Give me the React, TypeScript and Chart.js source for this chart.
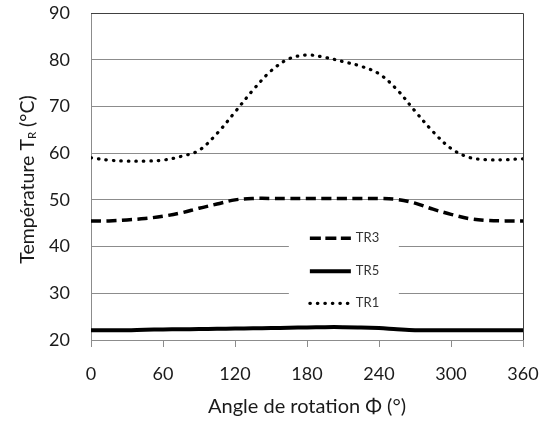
import React, { useEffect, useRef } from 'react';
import { Chart, registerables } from 'chart.js';

Chart.register(...registerables);

// ---- data ----
const angles = [0, 15, 30, 45, 60, 75, 90, 105, 120, 135, 150, 165, 180, 195, 210, 225, 240, 255, 270, 285, 300, 315, 330, 345, 360];
const tr1 = [59.0, 58.5, 58.3, 58.3, 58.5, 59.3, 60.6, 64.2, 68.8, 73.5, 77.6, 80.2, 81.0, 80.5, 79.6, 78.6, 77.0, 73.6, 69.0, 64.6, 61.0, 59.1, 58.6, 58.6, 58.8];
const tr3 = [45.5, 45.5, 45.7, 46.0, 46.5, 47.2, 48.2, 49.1, 50.0, 50.3, 50.3, 50.3, 50.3, 50.3, 50.3, 50.3, 50.3, 50.1, 49.3, 48.0, 46.9, 46.0, 45.6, 45.5, 45.5];
const tr5 = [22.1, 22.1, 22.1, 22.2, 22.25, 22.3, 22.35, 22.4, 22.45, 22.5, 22.55, 22.6, 22.7, 22.75, 22.75, 22.7, 22.55, 22.3, 22.1, 22.1, 22.1, 22.1, 22.1, 22.1, 22.1];
const xTicks = [0, 60, 120, 180, 240, 300, 360];
const yTicks = [20, 30, 40, 50, 60, 70, 80, 90];
const seriesNames = ['TR3', 'TR5', 'TR1'];
const xTitle = 'Angle de rotation Φ (°)';
const yTitleMain = 'Température T';
const yTitleSub = 'R';
const yTitleUnit = ' (°C)';

const FONT = 'Lato, "Open Sans", sans-serif';
const GRID = '#8c8c8c';
const TEXT = '#1a1a1a';

const toPoints = (vals: number[]) => angles.map((a, i) => ({ x: a, y: vals[i] }));

const framePlugin = {
  id: 'frame',
  beforeDatasetsDraw(chart: any) {
    const { ctx, chartArea, scales } = chart;
    const { left, right, top, bottom } = chartArea;
    ctx.save();
    ctx.strokeStyle = '#404040';
    ctx.lineWidth = 1;
    ctx.beginPath();
    ctx.moveTo(left, Math.round(top) + 0.5);
    ctx.lineTo(Math.round(right) + 0.5, Math.round(top) + 0.5);
    ctx.lineTo(Math.round(right) + 0.5, bottom);
    ctx.stroke();
    // visible x tick marks (short, below the axis)
    ctx.strokeStyle = GRID;
    ctx.beginPath();
    scales.x.ticks.forEach((t: any) => {
      const px = Math.round(scales.x.getPixelForValue(t.value)) + 0.5;
      ctx.moveTo(px, bottom);
      ctx.lineTo(px, bottom + 7);
    });
    ctx.stroke();
    ctx.restore();
  },
};

const legendPlugin = {
  id: 'innerLegend',
  afterDatasetsDraw(chart: any) {
    const { ctx, chartArea } = chart;
    const { left, top, width, height } = chartArea;
    const bx = left + width * 0.458;
    const by = top + height * 0.64;
    const bw = 110;
    const bh = 98;
    ctx.save();
    ctx.fillStyle = '#ffffff';
    ctx.fillRect(bx, by, bw, bh);
    const rows = [16, 49, 81];
    chart.data.datasets.forEach((ds: any, i: number) => {
      const y = by + rows[i];
      ctx.beginPath();
      ctx.strokeStyle = ds.borderColor;
      ctx.lineWidth = ds.borderWidth;
      ctx.lineCap = ds.borderCapStyle || 'butt';
      ctx.setLineDash(ds.legendDash || []);
      ctx.moveTo(bx + 21, y);
      ctx.lineTo(bx + 62, y);
      ctx.stroke();
      ctx.setLineDash([]);
      ctx.fillStyle = '#333333';
      ctx.font = `13px ${FONT}`;
      ctx.textBaseline = 'middle';
      ctx.textAlign = 'left';
      ctx.fillText(ds.label, bx + 67, y);
    });
    ctx.restore();
  },
};

const yTitlePlugin = {
  id: 'yTitle',
  afterDraw(chart: any) {
    const { ctx, chartArea } = chart;
    const cy = (chartArea.top + chartArea.bottom) / 2;
    ctx.save();
    ctx.translate(34, cy + 3);
    ctx.rotate(-Math.PI / 2);
    ctx.fillStyle = TEXT;
    ctx.textBaseline = 'alphabetic';
    ctx.textAlign = 'left';
    const mainFont = `19.5px ${FONT}`;
    const subFont = `11.5px ${FONT}`;
    ctx.font = mainFont;
    const w1 = ctx.measureText(yTitleMain).width;
    const w3 = ctx.measureText(yTitleUnit).width;
    ctx.font = subFont;
    const w2 = ctx.measureText(yTitleSub).width;
    let x = -(w1 + w2 + w3) / 2;
    ctx.font = mainFont;
    ctx.fillText(yTitleMain, x, 0);
    x += w1;
    ctx.font = subFont;
    ctx.fillText(yTitleSub, x, 2);
    x += w2;
    ctx.font = mainFont;
    ctx.fillText(yTitleUnit, x, 0);
    ctx.restore();
  },
};

export default function App() {
  const ref = useRef<HTMLCanvasElement | null>(null);
  useEffect(() => {
    if (!ref.current) return;
    const chart = new Chart(ref.current, {
      type: 'line',
      data: {
        datasets: [
          {
            label: seriesNames[0],
            data: toPoints(tr3),
            borderColor: '#000000',
            borderWidth: 3.5,
            borderDash: [10, 5.5],
            legendDash: [11, 4.5],
            pointRadius: 0,
            tension: 0.35,
            fill: false,
          } as any,
          {
            label: seriesNames[1],
            data: toPoints(tr5),
            borderColor: '#000000',
            borderWidth: 4,
            pointRadius: 0,
            tension: 0.35,
            fill: false,
          } as any,
          {
            label: seriesNames[2],
            data: toPoints(tr1),
            borderColor: '#000000',
            borderWidth: 3.2,
            borderDash: [0.5, 7],
            legendDash: [0.5, 7],
            borderCapStyle: 'round',
            pointRadius: 0,
            tension: 0.35,
            fill: false,
          } as any,
        ],
      },
      options: {
        responsive: false,
        animation: false,
        devicePixelRatio: 1,
        layout: { padding: { left: 0, right: 22, top: 13, bottom: 0 } },
        plugins: { legend: { display: false }, tooltip: { enabled: false }, title: { display: false } },
        scales: {
          x: {
            type: 'linear',
            min: 0,
            max: 360,
            afterBuildTicks: (s: any) => { s.ticks = xTicks.map((v) => ({ value: v })); },
            afterFit: (s: any) => { s.height = 83; },
            grid: { drawOnChartArea: false, drawTicks: true, tickLength: 23, tickColor: 'rgba(0,0,0,0)', color: GRID },
            border: { color: GRID },
            ticks: { color: TEXT, font: { family: FONT, size: 18 }, padding: 0, maxRotation: 0 },
            title: { display: true, text: xTitle, color: TEXT, font: { family: FONT, size: 20 }, padding: { top: 0, bottom: 4 } },
          },
          y: {
            type: 'linear',
            min: 20,
            max: 90,
            afterBuildTicks: (s: any) => { s.ticks = yTicks.map((v) => ({ value: v })); },
            afterFit: (s: any) => { s.width = 91; },
            grid: { drawTicks: true, tickLength: 21, tickColor: 'rgba(0,0,0,0)', color: GRID },
            border: { color: GRID },
            ticks: { color: TEXT, font: { family: FONT, size: 18 }, padding: 0 },
          },
        },
      },
      plugins: [framePlugin, legendPlugin, yTitlePlugin],
    } as any);
    return () => chart.destroy();
  }, []);
  return (
    <div style={{ position: 'fixed', left: 0, top: 0, width: 545, height: 423, background: '#fff' }}>
      <canvas ref={ref} width={545} height={423} style={{ display: 'block' }} />
    </div>
  );
}
